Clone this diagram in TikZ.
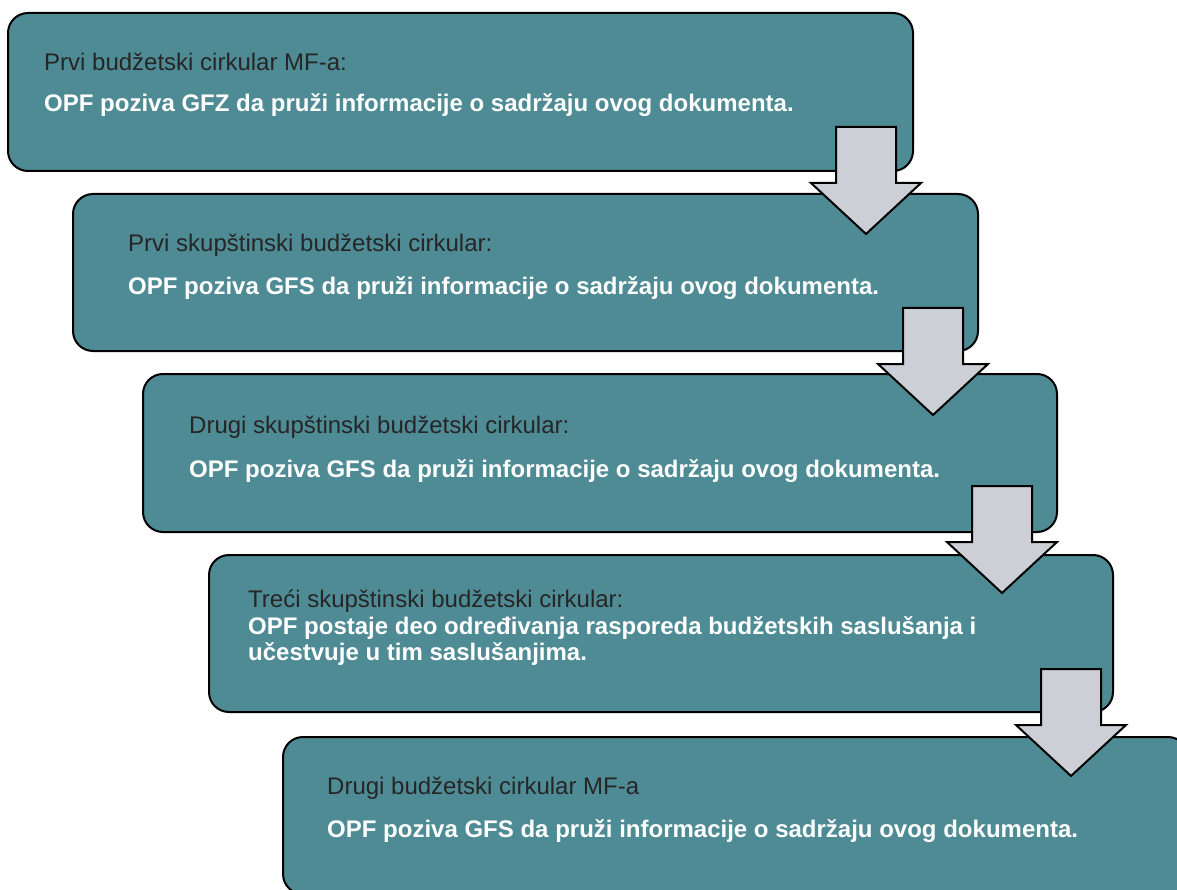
\documentclass[tikz,border=0pt]{standalone}
\usepackage{fontspec}
\setmainfont{Liberation Sans}
\definecolor{boxteal}{RGB}{78,139,148}
\definecolor{arrowgrey}{RGB}{205,207,215}
\definecolor{darktext}{RGB}{38,38,38}
\begin{document}
\begin{tikzpicture}[x=1pt,y=-1pt,
  stagebox/.style={draw=black, line width=2pt, fill=boxteal, rounded corners=20pt,
    anchor=north west, inner sep=0pt, outer sep=0pt},
  titletext/.style={anchor=base west, inner sep=0pt, text=darktext,
    font=\fontsize{24}{26.5}\selectfont},
  bodytext/.style={anchor=base west, inner sep=0pt, text=white,
    font=\fontsize{24}{26.5}\selectfont\bfseries},
  arrowshape/.style={draw=black, line width=2pt, fill=arrowgrey, line join=miter},
  blockarrow/.pic={\draw[arrowshape] (-30,0) -- (30,0) -- (30,56) -- (55,56) -- (0,107)
    -- (-55,56) -- (-30,56) -- cycle;}]
\useasboundingbox (0,0) rectangle (1177,890);
\clip (0,0) rectangle (1177,890);
% boxes
\node[stagebox, minimum width=905pt, minimum height=158pt] (b1) at (8,13) {};
\node[stagebox, minimum width=905pt, minimum height=157pt] (b2) at (73,194) {};
\node[stagebox, minimum width=914pt, minimum height=158pt] (b3) at (143,374) {};
\node[stagebox, minimum width=904pt, minimum height=157pt] (b4) at (209,555) {};
\node[stagebox, minimum width=905pt, minimum height=157pt] (b5) at (283,737) {};
% texts
\node[titletext] (t1) at (44,71) {Prvi budžetski cirkular MF-a:};
\node[bodytext] (d1) at (44,112) {OPF poziva GFZ da pruži informacije o sadržaju ovog dokumenta.};
\node[titletext] (t2) at (128,252) {Prvi skupštinski budžetski cirkular:};
\node[bodytext] (d2) at (128,295) {OPF poziva GFS da pruži informacije o sadržaju ovog dokumenta.};
\node[titletext] (t3) at (189,433) {Drugi skupštinski budžetski cirkular:};
\node[bodytext] (d3) at (189,477) {OPF poziva GFS da pruži informacije o sadržaju ovog dokumenta.};
\node[titletext] (t4) at (248,607) {Treći skupštinski budžetski cirkular:};
\node[bodytext] (d4a) at (248,634) {OPF postaje deo određivanja rasporeda budžetskih saslušanja i};
\node[bodytext] (d4b) at (248,660) {učestvuje u tim saslušanjima.};
\node[titletext] (t5) at (327,794) {Drugi budžetski cirkular MF-a};
\node[bodytext] (d5) at (327,837) {OPF poziva GFS da pruži informacije o sadržaju ovog dokumenta.};
% arrows
\pic (a1) at (866,127) {blockarrow};
\pic (a2) at (933,308) {blockarrow};
\pic (a3) at (1002,486) {blockarrow};
\pic (a4) at (1071,669) {blockarrow};
\end{tikzpicture}
\end{document}
